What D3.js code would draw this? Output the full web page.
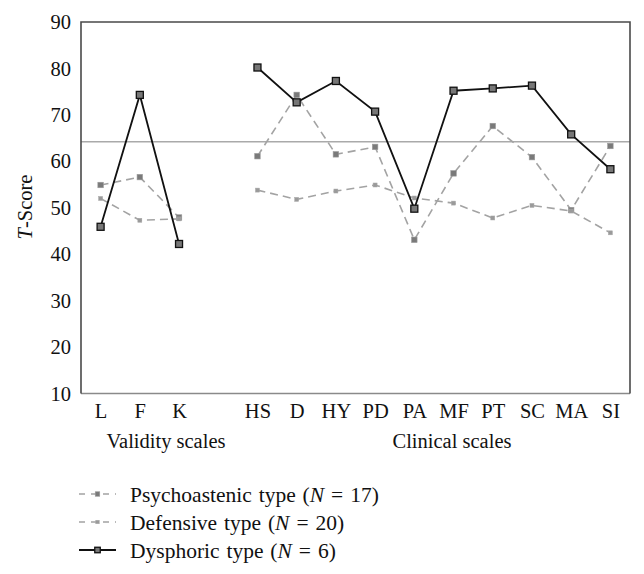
<!DOCTYPE html>
<html>
<head>
<meta charset="utf-8">
<script src="https://cdn.jsdelivr.net/npm/d3@7"></script>
<style>
  html, body { margin: 0; padding: 0; background: #fff; }
  svg { display: block; }
</style>
</head>
<body>
<svg id="chart" width="644" height="574" font-family="'Liberation Serif', 'DejaVu Serif', serif"></svg>
<script>
// ---- data ----
const categories = ["L", "F", "K", "gap", "HS", "D", "HY", "PD", "PA", "MF", "PT", "SC", "MA", "SI"];
const tickLabels = ["L", "F", "K", "", "HS", "D", "HY", "PD", "PA", "MF", "PT", "SC", "MA", "SI"];
const yTicks = [10, 20, 30, 40, 50, 60, 70, 80, 90];
const groupLabels = ["Validity scales", "Clinical scales"];
const cutoff = 64.2;

const psychoasthenic = [54.9, 56.6, 47.9, null, 61.1, 74.3, 61.5, 63.1, 43.1, 57.4, 67.6, 60.9, 49.5, 63.3];
const defensive      = [52.0, 47.3, 47.6, null, 53.8, 51.8, 53.6, 54.9, 52.1, 51.0, 47.8, 50.5, 49.3, 44.6];
const dysphoric      = [45.9, 74.3, 42.2, null, 80.2, 72.7, 77.3, 70.7, 49.8, 75.2, 75.7, 76.3, 65.8, 58.3];

const seriesNames = ["Psychoastenic type", "Defensive type", "Dysphoric type"];
const seriesN = [17, 20, 6];

// ---- layout ----
const FONT = "'Liberation Serif', 'DejaVu Serif', serif";
const FS = 20.5;
const svg = d3.select("#chart");
const mLeft = 81, mRight = 630, mTop = 22, mBottom = 393.5;

const x = d3.scalePoint().domain(categories).range([mLeft, mRight]).padding(0.5);
const y = d3.scaleLinear().domain([10, 90]).range([mBottom, mTop]);

const styles = [
  { values: psychoasthenic, stroke: "#a3a3a3", width: 1.6, dash: "8,5", marker: 5.5, lmarker: 4.5, mfill: "#7a7a7a", mstroke: "#9a9a9a", mstrokeW: 0.6 },
  { values: defensive,      stroke: "#a3a3a3", width: 1.6, dash: "8,5", marker: 4,   lmarker: 3.5, mfill: "#9a9a9a", mstroke: "#a8a8a8", mstrokeW: 0.5 },
  { values: dysphoric,      stroke: "#111",    width: 1.8, dash: null,  marker: 7,   lmarker: 5.5, mfill: "#777",    mstroke: "#111",    mstrokeW: 1.3 }
];

// cutoff line
svg.append("line")
  .attr("x1", mLeft).attr("x2", mRight)
  .attr("y1", y(cutoff)).attr("y2", y(cutoff))
  .attr("stroke", "#aaa").attr("stroke-width", 1.6);

// frame
svg.append("line").attr("x1", mLeft).attr("x2", mRight).attr("y1", mBottom).attr("y2", mBottom)
  .attr("stroke", "#8a8a8a").attr("stroke-width", 1.6);
svg.append("path")
  .attr("d", `M${mLeft},${mBottom}V${mTop}H${mRight}V${mBottom}`)
  .attr("fill", "none").attr("stroke", "#4a4a4a").attr("stroke-width", 1.6);

// y axis
const yAxis = svg.append("g")
  .attr("transform", `translate(${mLeft},0)`)
  .call(d3.axisLeft(y).tickValues(yTicks).tickSize(0).tickPadding(10).tickFormat(d3.format("d")))
  .attr("font-family", FONT).attr("font-size", FS);
yAxis.select(".domain").remove();
yAxis.selectAll("text").attr("fill", "#111");

// x axis
const xAxis = svg.append("g")
  .attr("transform", `translate(0,${mBottom})`)
  .call(d3.axisBottom(x).tickSize(0).tickPadding(10).tickFormat((d, i) => tickLabels[i]))
  .attr("font-family", FONT).attr("font-size", FS);
xAxis.select(".domain").remove();
xAxis.selectAll("text").attr("fill", "#111");

// group labels
svg.append("text").attr("x", 166).attr("y", 448).attr("text-anchor", "middle")
  .attr("font-size", FS).attr("fill", "#111").text(groupLabels[0]);
svg.append("text").attr("x", 452).attr("y", 448).attr("text-anchor", "middle")
  .attr("font-size", FS).attr("fill", "#111").text(groupLabels[1]);

// y title
const yt = svg.append("text")
  .attr("transform", `translate(32,207) rotate(-90)`)
  .attr("text-anchor", "middle")
  .attr("font-size", FS).attr("fill", "#111");
yt.append("tspan").attr("font-style", "italic").text("T");
yt.append("tspan").text("-Score");

// series
const line = d3.line()
  .defined(d => d.v != null)
  .x(d => x(d.c))
  .y(d => y(d.v));

styles.forEach(s => {
  const pts = categories.map((c, i) => ({ c, v: s.values[i] }));
  const g = svg.append("g");
  g.append("path")
    .datum(pts)
    .attr("d", line)
    .attr("fill", "none")
    .attr("stroke", s.stroke)
    .attr("stroke-width", s.width)
    .attr("stroke-dasharray", s.dash);
  g.selectAll("rect")
    .data(pts.filter(d => d.v != null))
    .join("rect")
    .attr("x", d => x(d.c) - s.marker / 2)
    .attr("y", d => y(d.v) - s.marker / 2)
    .attr("width", s.marker).attr("height", s.marker)
    .attr("fill", s.mfill)
    .attr("stroke", s.mstroke)
    .attr("stroke-width", s.mstrokeW);
});

// legend
const legY = [494, 522, 550];
styles.forEach((s, i) => {
  const g = svg.append("g").attr("transform", `translate(0,${legY[i]})`);
  g.append("line").attr("x1", 79).attr("x2", 116).attr("y1", 0).attr("y2", 0)
    .attr("stroke", s.stroke).attr("stroke-width", s.width)
    .attr("stroke-dasharray", s.dash ? "6,6" : null);
  g.append("rect")
    .attr("x", 97.5 - s.lmarker / 2).attr("y", -s.lmarker / 2)
    .attr("width", s.lmarker).attr("height", s.lmarker)
    .attr("fill", s.mfill).attr("stroke", s.mstroke).attr("stroke-width", s.mstrokeW);
  const t = g.append("text").attr("x", 130).attr("y", 7.5)
    .attr("font-size", 21.5).attr("fill", "#111").attr("word-spacing", 1.5);
  t.append("tspan").text(seriesNames[i] + " (");
  t.append("tspan").attr("font-style", "italic").text("N");
  t.append("tspan").attr("dx", 7).text("=");
  t.append("tspan").attr("dx", 7).text(seriesN[i] + ")");
});
</script>
</body>
</html>
